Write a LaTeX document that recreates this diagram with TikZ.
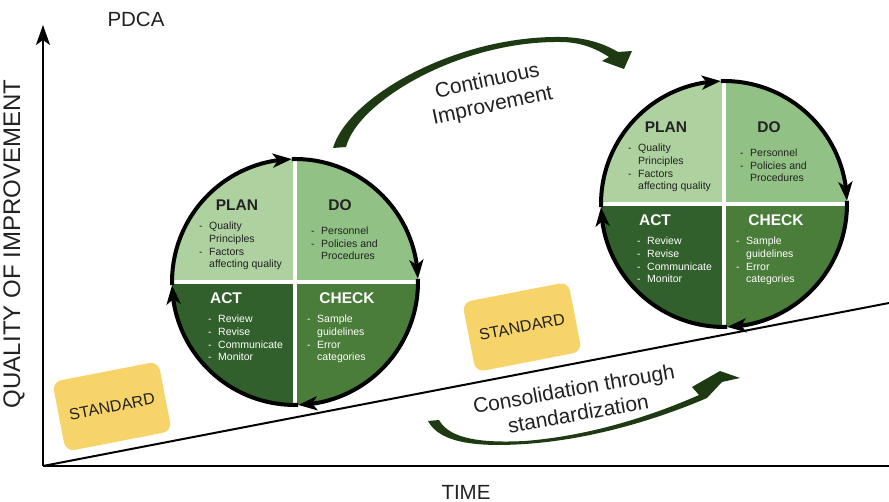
\documentclass[tikz,border=0pt]{standalone}
\usepackage{fontspec}
\setmainfont{Liberation Sans}
\usetikzlibrary{arrows.meta,bending}

\definecolor{plancol}{RGB}{174,209,160}
\definecolor{docol}{RGB}{146,193,133}
\definecolor{actcol}{RGB}{50,96,44}
\definecolor{checkcol}{RGB}{74,124,58}
\definecolor{arrowgreen}{RGB}{30,58,18}
\definecolor{stdyellow}{RGB}{247,212,106}
\definecolor{inkcol}{RGB}{34,34,34}

% list lines: a leading dash, and a continuation line indented to match
\newcommand\dashitem[1]{\makebox[10pt][l]{-}#1}
\newcommand\dashcont[1]{\hspace*{10pt}#1}

\tikzset{
  quadtitle/.style={font=\bfseries\fontsize{15.5}{18}\selectfont, inner sep=0pt},
  itemlist/.style={font=\fontsize{10.5}{12.6}\selectfont, align=left, anchor=north west, inner sep=0pt},
  ringarrow/.style={line width=4pt, -{Stealth[length=19pt,width=14pt,inset=5pt]}},
  divider/.style={white, line width=4.5pt},
  stdbox/.style={fill=stdyellow, rounded corners=9pt, minimum width=108pt, minimum height=71pt,
                 rotate=11, font=\fontsize{16}{19}\selectfont, text=inkcol},
  biglabel/.style={font=\fontsize{21}{25}\selectfont, text=inkcol, align=center},
  axislabel/.style={font=\fontsize{20.5}{24}\selectfont, text=inkcol},
  % one PDCA wheel, centred on the pic origin
  pdca/.pic={
    \fill[plancol]  (0,0) -- (180:123pt) arc[start angle=180, end angle=90,  radius=123pt] -- cycle;
    \fill[docol]    (0,0) -- (90:123pt)  arc[start angle=90,  end angle=0,   radius=123pt] -- cycle;
    \fill[checkcol] (0,0) -- (0:123pt)   arc[start angle=0,   end angle=-90, radius=123pt] -- cycle;
    \fill[actcol]   (0,0) -- (-90:123pt) arc[start angle=-90, end angle=-180,radius=123pt] -- cycle;
    \draw[divider] (0,123) -- (0,-123);
    \draw[divider] (-123,0) -- (123,0);
    \draw[ringarrow] (181.5:123pt) arc[start angle=181.5, end angle=91.5,  radius=123pt];
    \draw[ringarrow] (91.5:123pt)  arc[start angle=91.5,  end angle=1.5,   radius=123pt];
    \draw[ringarrow] (1.5:123pt)   arc[start angle=1.5,   end angle=-88.5, radius=123pt];
    \draw[ringarrow] (-88.5:123pt) arc[start angle=-88.5, end angle=-178.5,radius=123pt];
    \node[quadtitle, text=inkcol] (plan)  at (-58,77) {PLAN};
    \node[quadtitle, text=inkcol] (do)    at (45,77)  {DO};
    \node[quadtitle, text=white]  (act)   at (-69,-16) {ACT};
    \node[quadtitle, text=white]  (check) at (52,-16) {CHECK};
    \node[itemlist, text=inkcol] (planlist) at (-96,60)
      {\dashitem{Quality}\\\dashcont{Principles}\\\dashitem{Factors}\\\dashcont{affecting quality}};
    \node[itemlist, text=inkcol] (dolist) at (16,55)
      {\dashitem{Personnel}\\\dashitem{Policies and}\\\dashcont{Procedures}};
    \node[itemlist, text=white] (actlist) at (-87,-33)
      {\dashitem{Review}\\\dashitem{Revise}\\\dashitem{Communicate}\\\dashitem{Monitor}};
    \node[itemlist, text=white] (checklist) at (12,-33)
      {\dashitem{Sample}\\\dashcont{guidelines}\\\dashitem{Error}\\\dashcont{categories}};
  }
}

\begin{document}
\begin{tikzpicture}[x=1pt, y=1pt]
  \useasboundingbox[fill=white] (0,0) rectangle (889,502);

  % axes and the rising standard line
  \coordinate (origin) at (43,36);
  \coordinate (ytop)   at (43,477);
  \coordinate (xend)   at (889,36);
  \coordinate (trend)  at (889,199);
  \draw[line width=2.6pt] (origin) -- (xend);
  \draw[line width=2pt, -{Stealth[length=20pt,width=14pt,inset=5pt]}] (origin) -- (ytop);
  \draw[line width=2pt] (origin) -- (trend);

  \node[axislabel] (pdca)   at (136,483) {PDCA};
  \node[axislabel] (xlabel) at (466,10)  {TIME};
  \node[axislabel, font=\fontsize{24}{28}\selectfont, rotate=90] (ylabel) at (14,258) {QUALITY OF IMPROVEMENT};

  % standards resting on the line
  \node[stdbox] (stdleft)  at (112,95.5) {STANDARD};
  \node[stdbox] (stdright) at (522,175)  {STANDARD};

  % the two wheels
  \pic (lw) at (295,220) {pdca};
  \pic (rw) at (724,298) {pdca};

  % curved arrow over the top: continuous improvement
  \fill[arrowgreen]
    (333,354) .. controls (348,405) and (455,466) .. (560,465)
    .. controls (585,465) and (605,458) .. (618,450)
    -- (632,451) -- (624,433) -- (602,441) -- (609,445)
    .. controls (595,454) and (580,460) .. (560,460)
    .. controls (460,461) and (358,401) .. (346,355) -- cycle;
  \node[biglabel, rotate=12] (contlabel) at (490,408) {Continuous\\Improvement};

  % curved arrow underneath: consolidation
  \fill[arrowgreen]
    (428,81) .. controls (440,58) and (480,55) .. (525,58)
    .. controls (600,63) and (670,88) .. (707,104)
    -- (722,120) -- (740,124) -- (720,131) -- (692,115) -- (699,107)
    .. controls (665,92) and (600,67) .. (525,61)
    .. controls (485,59) and (450,62) .. (439,82) -- cycle;
  \node[biglabel, rotate=10] (conslabel) at (576,101) {Consolidation through\\standardization};
\end{tikzpicture}
\end{document}
